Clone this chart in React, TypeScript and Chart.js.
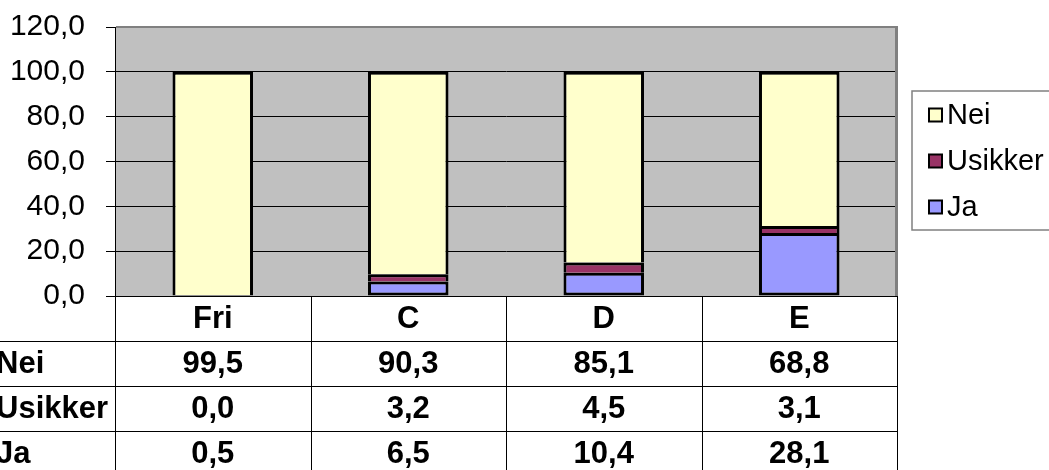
import React, { useEffect, useRef } from "react";
import { Chart, registerables } from "chart.js";

Chart.register(...registerables);

const categories = ["Fri", "C", "D", "E"];
const jaValues = [0.5, 6.5, 10.4, 28.1];
const usikkerValues = [0.0, 3.2, 4.5, 3.1];
const neiValues = [99.5, 90.3, 85.1, 68.8];
const seriesLabels = ["Ja", "Usikker", "Nei"];
const seriesColors = ["#9999FF", "#993366", "#FFFFCC"];
const yMin = 0;
const yMax = 120;
const yStep = 20;

const FONT = "'Liberation Sans', Arial, sans-serif";
const fmt = (v: number) => v.toFixed(1).replace(".", ",");

export default function App() {
  const ref = useRef<HTMLCanvasElement>(null);

  useEffect(() => {
    const canvas = ref.current!;
    const excelLook = {
      id: "excelLook",
      beforeDraw(chart: any) {
        const { ctx, chartArea: a } = chart;
        ctx.save();
        ctx.fillStyle = "#C0C0C0";
        ctx.fillRect(a.left, a.top, a.right - a.left, a.bottom - a.top);
        ctx.restore();
      },
      afterDraw(chart: any) {
        const { ctx, chartArea: a } = chart;
        const xs = chart.scales.x;
        const H = chart.height;
        const n = categories.length;
        const catW = (a.right - a.left) / n;
        const rowH = 45;
        ctx.save();
        // plot border: top & right gray
        ctx.fillStyle = "#808080";
        ctx.fillRect(a.left + 1, a.top - 1, a.right - a.left, 2);
        ctx.fillRect(a.right - 2, a.top - 1, 3, a.bottom - a.top + 1);

        // table lines
        ctx.strokeStyle = "#000";
        ctx.lineWidth = 1;
        ctx.beginPath();
        for (let k = 1; k <= 3; k++) {
          const y = Math.round(a.bottom + k * rowH) + 0.5;
          ctx.moveTo(0, y);
          ctx.lineTo(a.right + 1, y);
        }
        for (let i = 0; i <= n; i++) {
          const x = Math.round(a.left + i * catW) + 0.5;
          ctx.moveTo(x, a.bottom);
          ctx.lineTo(x, H);
        }
        ctx.stroke();

        // table text
        ctx.fillStyle = "#000";
        ctx.font = `bold 31px ${FONT}`;
        ctx.textBaseline = "middle";
        ctx.textAlign = "center";
        categories.forEach((c, i) => {
          ctx.fillText(c, xs.getPixelForValue(i), a.bottom + rowH / 2 + 1);
        });
        const ds = chart.data.datasets.slice().reverse();
        ds.forEach((d: any, r: number) => {
          const cy = a.bottom + (r + 1) * rowH + rowH / 2 + 0.5;
          ctx.textAlign = "left";
          ctx.fillText(d.label, -4, cy);
          ctx.textAlign = "center";
          (d.data as number[]).forEach((v, i) => {
            ctx.fillText(fmt(v), xs.getPixelForValue(i), cy);
          });
        });

        // legend
        ctx.strokeStyle = "#808080";
        ctx.lineWidth = 1.5;
        ctx.strokeRect(912, 91, 160, 139);
        ctx.font = `29px ${FONT}`;
        ctx.textAlign = "left";
        ds.forEach((d: any, r: number) => {
          const cy = 115 + r * 46;
          ctx.fillStyle = d.backgroundColor;
          ctx.fillRect(929, cy - 6.5, 13, 13);
          ctx.strokeStyle = "#000";
          ctx.lineWidth = 2;
          ctx.strokeRect(929, cy - 6.5, 13, 13);
          ctx.fillStyle = "#000";
          ctx.fillText(d.label, 947, cy + 1);
        });
        ctx.restore();
      },
    };

    const seriesData = [jaValues, usikkerValues, neiValues];
    const chart = new Chart(canvas, {
      type: "bar",
      data: {
        labels: categories,
        datasets: seriesLabels.map((label, i) => ({
          label,
          data: seriesData[i],
          backgroundColor: seriesColors[i],
          borderColor: "#000",
          borderWidth: 3,
          borderSkipped: i === 0 ? false : "start",
          barPercentage: 0.412,
          categoryPercentage: 1,
        })),
      },
      options: {
        responsive: false,
        animation: false,
        devicePixelRatio: 1,
        layout: { padding: { left: 0, right: 152, top: 27, bottom: 174 } },
        plugins: { legend: { display: false }, tooltip: { enabled: false } },
        scales: {
          x: { stacked: true, display: false, offset: true },
          y: {
            stacked: true,
            min: yMin,
            max: yMax,
            ticks: {
              stepSize: yStep,
              color: "#000",
              font: { family: FONT, size: 30 },
              padding: 21,
              callback: (v: any) => fmt(Number(v)),
            },
            grid: { color: "#000", lineWidth: 1, tickLength: 9, drawTicks: true },
            border: { color: "#000", width: 1 },
            afterFit: (s: any) => {
              s.width = 115;
              s.paddingTop = 0;
              s.paddingBottom = 0;
            },
          },
        },
      },
      plugins: [excelLook],
    } as any);
    return () => chart.destroy();
  }, []);

  return (
    <div style={{ position: "fixed", left: 0, top: 0, width: 1049, height: 470, background: "#fff" }}>
      <canvas ref={ref} width={1049} height={470} style={{ display: "block" }} />
    </div>
  );
}
